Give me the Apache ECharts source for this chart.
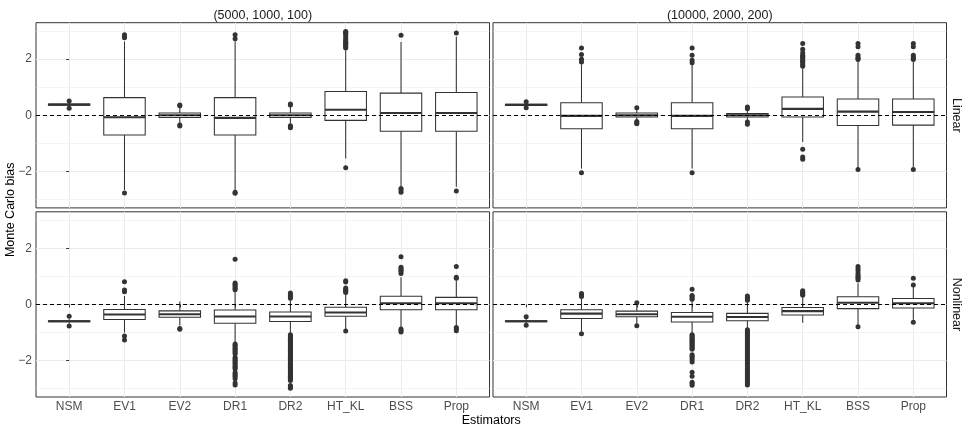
<!DOCTYPE html>
<html>
<head>
<meta charset="utf-8">
<script src="https://cdn.jsdelivr.net/npm/echarts@6/dist/echarts.min.js"></script>
<style>
html,body{margin:0;padding:0;background:#fff;}
#chart{width:969px;height:431px;}
</style>
</head>
<body>
<div id="chart"></div>
<script>
// ---------- data ----------
const categories = ['NSM', 'EV1', 'EV2', 'DR1', 'DR2', 'HT_KL', 'BSS', 'Prop'];
const colLabels = ['(5000, 1000, 100)', '(10000, 2000, 200)'];
const rowLabels = ['Linear', 'Nonlinear'];
const yTickValues = [-2, 0, 2];
const yRange = [-3.3, 3.3];
const xTitle = 'Estimators';
const yTitle = 'Monte Carlo bias';

// box stats: [lower whisker, Q1, median, Q3, upper whisker]
const linearSmallBox = [
  [0.30, 0.36, 0.38, 0.40, 0.46],
  [-2.66, -0.70, -0.07, 0.63, 2.63],
  [-0.30, -0.08, 0.00, 0.08, 0.30],
  [-2.68, -0.70, -0.09, 0.63, 2.64],
  [-0.30, -0.08, 0.00, 0.08, 0.30],
  [-1.54, -0.18, 0.20, 0.85, 2.31],
  [-2.54, -0.57, 0.08, 0.79, 2.61],
  [-2.55, -0.57, 0.08, 0.81, 2.80]
];
const linearSmallOut = [
  [0.51, 0.25],
  [2.76, 2.80, 2.87, -2.77],
  [0.34, 0.37, -0.35, -0.38],
  [2.73, 2.87, -2.74, -2.78],
  [0.37, 0.40, -0.37, -0.41, -0.44],
  [2.40, 2.44, 2.48, 2.52, 2.56, 2.60, 2.64, 2.70, 2.76, 2.85, 2.92, 2.96, 2.99, -1.87],
  [2.85, -2.61, -2.66, -2.74],
  [2.93, -2.70]
];

const linearLargeBox = [
  [0.31, 0.35, 0.37, 0.39, 0.44],
  [-1.90, -0.48, -0.02, 0.45, 1.82],
  [-0.18, -0.06, 0.00, 0.08, 0.20],
  [-1.90, -0.48, -0.02, 0.45, 1.82],
  [-0.18, -0.06, 0.00, 0.06, 0.18],
  [-0.95, -0.06, 0.23, 0.65, 1.67],
  [-1.85, -0.36, 0.13, 0.58, 1.90],
  [-1.85, -0.35, 0.12, 0.58, 1.90]
];
const linearLargeOut = [
  [0.48, 0.27],
  [1.90, 2.00, 2.17, 2.40, -2.05],
  [0.27, -0.22, -0.27, -0.30],
  [1.87, 1.96, 2.14, 2.40, -2.05],
  [0.23, 0.30, -0.24, -0.32],
  [1.75, 1.80, 1.87, 1.92, 1.96, 2.02, 2.06, 2.10, 2.14, 2.23, 2.35, 2.56, -1.21, -1.49, -1.57],
  [1.99, 2.03, 2.06, 2.14, 2.44, 2.56, -1.93],
  [1.99, 2.03, 2.08, 2.14, 2.44, 2.56, -1.93]
];

const nonlinearSmallBox = [
  [-0.68, -0.62, -0.60, -0.58, -0.52],
  [-1.00, -0.54, -0.36, -0.18, 0.30],
  [-0.75, -0.46, -0.35, -0.23, 0.10],
  [-1.35, -0.67, -0.43, -0.20, 0.44],
  [-1.05, -0.61, -0.43, -0.27, 0.18],
  [-0.88, -0.42, -0.29, -0.10, 0.36],
  [-0.85, -0.19, 0.04, 0.29, 0.97],
  [-0.78, -0.19, 0.04, 0.25, 0.85]
];
const nonlinearSmallOut = [
  [-0.42, -0.77],
  [0.45, 0.51, 0.81, -1.13, -1.27],
  [-0.86, -0.89],
  [0.52, 0.57, 0.62, 0.67, 0.72, 0.76, 1.61, -1.41, -1.46, -1.51, -1.56, -1.61, -1.66, -1.71, -1.77,
   -1.89, -1.94, -1.99, -2.04, -2.09, -2.14, -2.20, -2.25, -2.30, -2.43, -2.48, -2.53, -2.58, -2.65, -2.80, -2.87],
  [0.22, 0.28, 0.35, 0.41, -1.08, -1.12, -1.16, -1.20, -1.24, -1.28, -1.32, -1.36, -1.40, -1.44, -1.48,
   -1.52, -1.56, -1.60, -1.64, -1.68, -1.72, -1.76, -1.80, -1.84, -1.88, -1.92, -1.96, -2.00, -2.04,
   -2.08, -2.12, -2.16, -2.20, -2.24, -2.28, -2.32, -2.36, -2.40, -2.44, -2.48, -2.52, -2.56, -2.60,
   -2.64, -2.68, -2.71, -2.89, -2.94, -2.99],
  [0.42, 0.46, 0.50, 0.54, 0.58, 0.80, 0.84, -0.95],
  [1.10, 1.17, 1.22, 1.27, 1.32, 1.70, -0.88, -0.93, -0.98],
  [0.93, 0.97, 1.35, -0.82, -0.88, -0.94]
];

const nonlinearLargeBox = [
  [-0.68, -0.62, -0.60, -0.58, -0.52],
  [-0.95, -0.50, -0.33, -0.19, 0.25],
  [-0.70, -0.44, -0.35, -0.24, 0.00],
  [-1.05, -0.63, -0.44, -0.29, 0.14],
  [-0.87, -0.58, -0.45, -0.32, 0.11],
  [-0.65, -0.38, -0.24, -0.11, 0.25],
  [-0.75, -0.15, 0.06, 0.27, 0.75],
  [-0.55, -0.13, 0.04, 0.21, 0.62]
];
const nonlinearLargeOut = [
  [-0.44, -0.74],
  [0.28, 0.33, 0.39, -1.05],
  [0.06, -0.76],
  [0.18, 0.23, 0.28, 0.32, 0.54, -1.08, -1.12, -1.16, -1.20, -1.24, -1.28, -1.32, -1.36, -1.40, -1.44,
   -1.48, -1.52, -1.56, -1.60, -1.79, -1.85, -1.90, -1.97, -2.05, -2.42, -2.56, -2.77, -2.82, -2.88],
  [0.15, 0.20, 0.25, 0.30, -0.90, -0.95, -1.00, -1.05, -1.10, -1.15, -1.20, -1.26, -1.32, -1.38, -1.44,
   -1.50, -1.56, -1.62, -1.68, -1.74, -1.80, -1.86, -1.92, -1.98, -2.04, -2.10, -2.16, -2.22, -2.28,
   -2.34, -2.40, -2.46, -2.52, -2.58, -2.64, -2.70, -2.76, -2.82, -2.87],
  [0.33, 0.37, 0.41, 0.45, 0.49],
  [0.87, 0.93, 0.98, 1.03, 1.10, 1.20, 1.27, 1.35, -0.80],
  [0.69, 0.93, -0.64]
];

// ---------- layout ----------
const FONT = 'Liberation Sans, Arial, Helvetica, sans-serif';
const panelLeft = [36, 493];
const panelTop = [22.7, 211.8];
const panelW = 453.5;
const panelH = 185.2;

const panels = [
  { row: 0, col: 0, box: linearSmallBox, out: linearSmallOut },
  { row: 0, col: 1, box: linearLargeBox, out: linearLargeOut },
  { row: 1, col: 0, box: nonlinearSmallBox, out: nonlinearSmallOut },
  { row: 1, col: 1, box: nonlinearLargeBox, out: nonlinearLargeOut }
];

const catIdx = categories.map((c, i) => i);
const minus = v => (v < 0 ? '\u2212' + Math.abs(v) : String(v));

const grids = [], xAxes = [], yAxes = [], series = [];

function renderBox(params, api) {
  const x = api.value(0);
  const lo = api.coord([x, api.value(1)]);
  const q1 = api.coord([x, api.value(2)]);
  const md = api.coord([x, api.value(3)]);
  const q3 = api.coord([x, api.value(4)]);
  const hi = api.coord([x, api.value(5)]);
  const half = api.size([0.75, 0])[0] / 2;
  const ls = { stroke: '#333333', lineWidth: 1.05, fill: null };
  return {
    type: 'group',
    children: [
      { type: 'line', shape: { x1: lo[0], y1: lo[1], x2: q1[0], y2: q1[1] }, style: ls },
      { type: 'line', shape: { x1: q3[0], y1: q3[1], x2: hi[0], y2: hi[1] }, style: ls },
      { type: 'rect', shape: { x: q3[0] - half, y: q3[1], width: 2 * half, height: q1[1] - q3[1] },
        style: { fill: '#ffffff', stroke: '#333333', lineWidth: 1.05 } },
      { type: 'line', shape: { x1: md[0] - half, y1: md[1], x2: md[0] + half, y2: md[1] },
        style: { stroke: '#333333', lineWidth: 2.1 } }
    ]
  };
}

panels.forEach((p, k) => {
  const bottom = p.row === 1;
  const left = p.col === 0;
  grids.push({
    left: panelLeft[p.col], top: panelTop[p.row], width: panelW, height: panelH,
    show: true, borderColor: '#333333', borderWidth: 1, backgroundColor: 'transparent',
    containLabel: false
  });
  xAxes.push({
    gridIndex: k, type: 'value', min: -0.6, max: 7.6,
    splitNumber: 8, minInterval: 1, maxInterval: 1,
    axisLine: { show: false },
    axisTick: { show: bottom, customValues: catIdx, length: 3, lineStyle: { color: '#333333', width: 1 } },
    axisLabel: {
      show: bottom, customValues: catIdx, margin: 4,
      color: '#4D4D4D', fontSize: 12, fontFamily: FONT,
      formatter: v => (Number.isInteger(v) && categories[v] !== undefined ? categories[v] : '')
    },
    splitLine: { show: true, lineStyle: { color: '#EBEBEB', width: 1.05 } }
  });
  yAxes.push({
    gridIndex: k, type: 'value', min: yRange[0], max: yRange[1],
    splitNumber: 3, minInterval: 2, maxInterval: 2,
    axisLine: { show: false },
    axisTick: { show: left, customValues: yTickValues, length: 3, lineStyle: { color: '#333333', width: 1 } },
    axisLabel: {
      show: left, customValues: yTickValues, margin: 4,
      color: '#4D4D4D', fontSize: 12, fontFamily: FONT,
      formatter: v => minus(v)
    },
    splitLine: { show: true, lineStyle: { color: '#EBEBEB', width: 1.05 } },
    minorTick: { show: false, splitNumber: 2 },
    minorSplitLine: { show: true, lineStyle: { color: '#EBEBEB', width: 0.55 } }
  });
  const boxData = p.box.map((b, i) => [i].concat(b));
  const outData = [];
  p.out.forEach((arr, i) => arr.forEach(v => outData.push([i, v])));
  series.push({
    type: 'custom', xAxisIndex: k, yAxisIndex: k, z: 2,
    renderItem: renderBox, data: boxData,
    encode: { x: 0, y: [1, 2, 3, 4, 5] }, silent: true
  });
  series.push({
    type: 'scatter', xAxisIndex: k, yAxisIndex: k, z: 3,
    data: outData, symbol: 'circle', symbolSize: 5,
    itemStyle: { color: '#333333', opacity: 1 }, silent: true,
    markLine: {
      silent: true, symbol: ['none', 'none'], label: { show: false },
      lineStyle: { type: [4, 3], color: '#000000', width: 1.05 },
      data: [{ yAxis: 0 }], animation: false
    }
  });
});

const graphics = [];
colLabels.forEach((t, c) => {
  graphics.push({
    type: 'text', x: panelLeft[c] + panelW / 2, y: 15.5,
    style: { text: t, fontSize: 12.5, fontFamily: FONT, fill: '#1A1A1A',
             textAlign: 'center', textVerticalAlign: 'middle', align: 'center', verticalAlign: 'middle' }
  });
});
rowLabels.forEach((t, r) => {
  graphics.push({
    type: 'text', x: 956, y: panelTop[r] + panelH / 2, rotation: -Math.PI / 2,
    style: { text: t, fontSize: 12.5, fontFamily: FONT, fill: '#1A1A1A',
             textAlign: 'center', textVerticalAlign: 'middle', align: 'center', verticalAlign: 'middle' }
  });
});
graphics.push({
  type: 'text', x: panelLeft[0] + (panelLeft[1] + panelW - panelLeft[0]) / 2, y: 420.5,
  style: { text: xTitle, fontSize: 12.5, fontFamily: FONT, fill: '#000000',
           textAlign: 'center', textVerticalAlign: 'middle', align: 'center', verticalAlign: 'middle' }
});
graphics.push({
  type: 'text', x: 11, y: (panelTop[0] + panelTop[1] + panelH) / 2, rotation: Math.PI / 2,
  style: { text: yTitle, fontSize: 12.5, fontFamily: FONT, fill: '#000000',
           textAlign: 'center', textVerticalAlign: 'middle', align: 'center', verticalAlign: 'middle' }
});

const chart = echarts.init(document.getElementById('chart'), null, { renderer: 'canvas' });
chart.setOption({
  animation: false,
  backgroundColor: '#ffffff',
  textStyle: { fontFamily: FONT },
  grid: grids,
  xAxis: xAxes,
  yAxis: yAxes,
  series: series,
  graphic: graphics
});
</script>
</body>
</html>
